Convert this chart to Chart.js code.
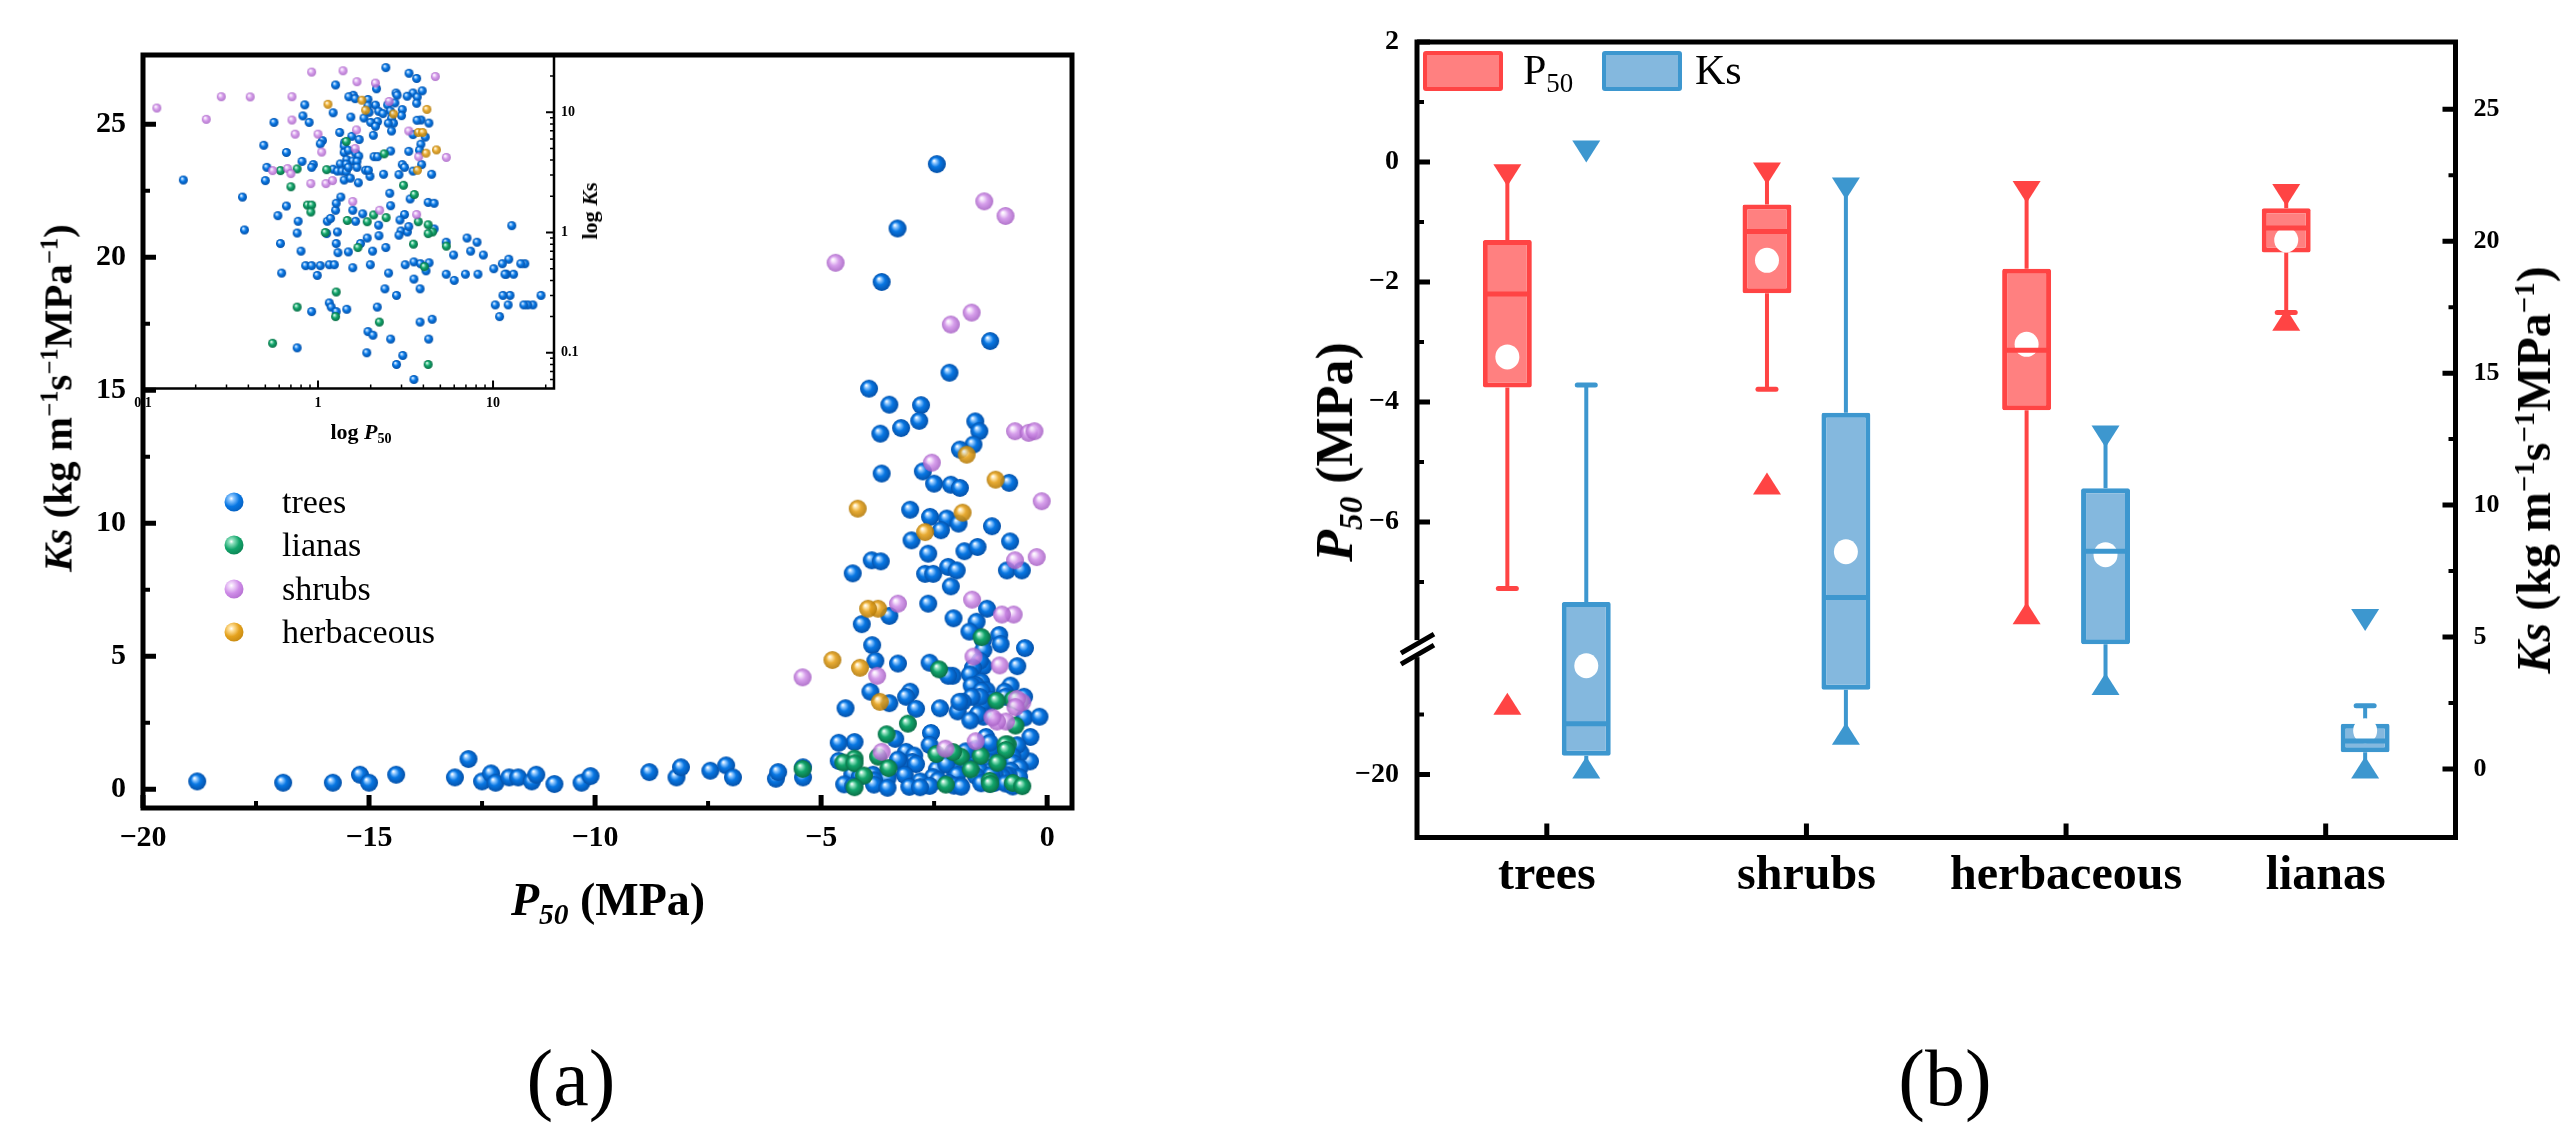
<!DOCTYPE html>
<html lang="en">
<head>
<meta charset="UTF-8">
<title>P50 and Ks by growth form</title>
<script src="https://cdn.jsdelivr.net/npm/chart.js@4"></script>
<style>
  body { margin: 0; background: #fff; font-family: 'Liberation Serif', 'Times New Roman', serif; }
  #page { position: relative; width: 2576px; height: 1148px; overflow: hidden; background: #fff; }
  canvas { position: absolute; }
  .txt { position: absolute; white-space: nowrap; color: #000; line-height: 1; }
  .b { font-weight: bold; }
  .ctr { transform: translate(-50%, -50%); }
  .rot { transform: translate(-50%, -50%) rotate(-90deg); }
  .vmid { transform: translateY(-50%); }
  .txt sup { font-size: 60%; vertical-align: 0; position: relative; top: -0.55em; line-height: 0; }
  .txt sub { font-size: 64%; vertical-align: 0; position: relative; top: 0.3em; line-height: 0; }
  .ball { position: absolute; width: 19px; height: 19px; border-radius: 50%; transform: translate(-50%, -50%); }
  .swatch { position: absolute; width: 72px; height: 32px; border: 4px solid; border-radius: 3px; }
</style>
</head>
<body>
<div id="page">
  <canvas id="mainA" width="1288" height="1148" style="left:0;top:0"></canvas>
  <canvas id="insetA" width="640" height="460" style="left:0;top:0"></canvas>
  <canvas id="boxB" width="1288" height="1148" style="left:1288px;top:0"></canvas>

  <!-- panel (a) text -->
  <div class="txt b rot" style="left:58px;top:398px;font-size:41px"><i>Ks</i> (kg m<sup>&minus;1</sup>s<sup>&minus;1</sup>MPa<sup>&minus;1</sup>)</div>
  <div class="txt b ctr" style="left:608px;top:900px;font-size:46px"><i>P<sub>50</sub></i> (MPa)</div>
  <div class="txt b ctr" style="left:361px;top:432px;font-size:22px">log <i>P</i><sub>50</sub></div>
  <div class="txt b rot" style="left:590px;top:211px;font-size:22px">log <i>K</i>s</div>
  <div class="ball" style="left:234px;top:502px;background:radial-gradient(circle at 36% 32%,#fff 0,#8cc6ff 14%,#0877e3 45%,#0450a8 100%)"></div>
  <div class="ball" style="left:234px;top:545px;background:radial-gradient(circle at 36% 32%,#fff 0,#8de0bd 14%,#12a56b 45%,#0a6e46 100%)"></div>
  <div class="ball" style="left:234px;top:589px;background:radial-gradient(circle at 36% 32%,#fff 0,#f1d8fa 14%,#cf8de8 45%,#a45dc2 100%)"></div>
  <div class="ball" style="left:234px;top:632px;background:radial-gradient(circle at 36% 32%,#fff 0,#ffe09a 14%,#e5a21d 45%,#b37a0a 100%)"></div>
  <div class="txt vmid" style="left:282px;top:502px;font-size:34px">trees</div>
  <div class="txt vmid" style="left:282px;top:545px;font-size:34px">lianas</div>
  <div class="txt vmid" style="left:282px;top:589px;font-size:34px">shrubs</div>
  <div class="txt vmid" style="left:282px;top:632px;font-size:34px">herbaceous</div>
  <div class="txt ctr" style="left:571px;top:1078px;font-size:80px">(a)</div>

  <!-- panel (b) text -->
  <div class="txt b rot" style="left:1335px;top:452px;font-size:52px"><i>P<sub>50</sub></i> (MPa)</div>
  <div class="txt b rot" style="left:2534px;top:470px;font-size:48px"><i>Ks</i> (kg m<sup>&minus;1</sup>s<sup>&minus;1</sup>MPa<sup>&minus;1</sup>)</div>
  <div class="swatch" style="left:1423px;top:51px;background:#ff8080;border-color:#ff4444"></div>
  <div class="txt vmid" style="left:1523px;top:70px;font-size:42px">P<sub>50</sub></div>
  <div class="swatch" style="left:1602px;top:51px;background:#84b8de;border-color:#3d97cf"></div>
  <div class="txt vmid" style="left:1695px;top:70px;font-size:42px">Ks</div>
  <div class="txt ctr" style="left:1945px;top:1078px;font-size:80px">(b)</div>
</div>

<script>
// ---- panel (a): [P50 (MPa), Ks (kg m-1 s-1 MPa-1)] per growth form ----
const treesPts = [
  [-2.44,23.5],[-3.31,21.08],[-3.66,19.07],[-1.26,16.85],[-2.16,15.66],[-3.94,15.06],[-3.49,14.46],[-2.79,14.44],
  [-2.83,13.85],[-3.23,13.58],[-3.69,13.37],[-1.59,13.83],[-1.5,13.46],[-1.63,12.96],[-1.93,12.77],[-2.75,11.95],
  [-3.66,11.87],[-2.5,11.49],[-2.13,11.45],[-1.93,11.33],[-0.84,11.52],[-3.03,10.51],[-2.59,10.24],[-2.22,10.18],
  [-1.96,9.99],[-2.35,9.74],[-3.0,9.36],[-1.22,9.89],[-0.82,9.32],[-2.63,8.86],[-1.83,8.95],[-1.54,9.11],
  [-3.88,8.61],[-3.68,8.57],[-4.3,8.12],[-2.7,8.1],[-2.52,8.1],[-2.19,8.36],[-2.0,8.23],[-0.89,8.23],[-0.56,8.23],
  [-2.13,7.63],[-2.07,6.43],[-1.33,6.79],[-1.56,6.3],[-1.42,5.61],[-1.72,5.93],[-3.49,6.52],[-4.1,6.21],
  [-3.87,5.42],[-3.8,4.83],[-1.41,5.24],[-1.41,4.63],[-1.49,4.83],[-1.64,4.57],[-1.71,4.32],[-2.09,4.27],
  [-2.19,4.27],[-2.6,4.76],[-3.3,4.73],[-0.49,5.31],[-0.66,4.63],[-0.81,3.9],[-1.06,5.8],[-1.03,5.46],
  [-1.46,4.04],[-1.34,3.72],[-2.63,6.98],[-1.58,3.93],[-1.67,3.9],[-1.45,3.7],[-1.22,3.36],[-1.29,3.24],
  [-1.37,3.24],[-1.45,3.2],[-1.49,3.48],[-1.67,3.48],[-1.87,3.29],[-1.98,2.93],[-3.03,3.67],[-3.12,3.48],
  [-3.91,3.67],[-4.46,3.05],[-2.37,3.05],[-2.9,3.03],[-0.51,3.48],[-0.5,2.7],[-0.94,3.67],[-0.92,3.48],
  [-1.41,2.73],[-1.53,2.83],[-1.7,2.59],[-1.94,3.29],[-3.49,3.24],[-0.17,2.73],[-2.57,2.12],[-3.36,1.9],
  [-4.26,1.78],[-4.61,1.75],[-0.37,1.97],[-0.38,1.05],[-0.59,1.38],[-0.66,1.66],[-0.77,1.24],[-0.76,0.99],
  [-1.13,1.24],[-1.18,1.31],[-1.26,1.53],[-1.35,1.97],[-1.27,1.75],[-1.58,1.53],[-1.64,1.24],[-1.12,0.98],
  [-1.29,1.01],[-1.8,1.43],[-2.22,1.15],[-2.6,1.67],[-3.12,1.41],[-2.94,1.27],[-2.98,1.03],[-3.24,1.01],
  [-4.61,1.07],[-0.61,0.81],[-0.8,0.7],[-1.27,0.81],[-1.3,0.68],[-1.49,0.69],[-1.75,0.81],[-1.91,0.9],
  [-2.05,0.7],[-2.44,0.75],[-2.23,0.94],[-2.9,0.95],[-3.3,1.12],[-0.62,0.46],[-0.85,0.53],[-0.92,0.53],
  [-1.03,0.53],[-0.99,0.44],[-1.16,0.54],[-1.24,0.54],[-1.58,0.51],[-1.99,0.54],[-2.53,0.46],[-3.15,0.54],
  [-3.53,0.57],[-3.85,0.55],[-4.31,0.56],[-4.14,0.48],[-3.53,0.41],[-3.83,0.34],[-2.41,0.34],[-2.81,0.3],
  [-1.16,0.26],[-1.19,0.24],[-1.27,0.22],[-1.46,0.23],[-0.92,0.22],[-2.18,0.24],[-3.83,0.18],[-4.49,0.19],
  [-1.93,0.15],[-2.06,0.14],[-2.6,0.13],[-4.29,0.13],[-0.76,0.11],[-1.9,0.1],[-3.05,0.095],[-2.81,0.08],
  [-3.53,0.06],
  [-18.8,0.3],[-16.9,0.25],[-15.8,0.25],[-15.2,0.55],[-15.0,0.25],[-14.4,0.55],[-13.1,0.45],[-12.8,1.14],
  [-12.5,0.3],[-12.3,0.6],[-12.2,0.25],[-11.9,0.45],[-11.7,0.45],[-11.4,0.3],[-11.3,0.55],[-10.9,0.2],
  [-10.3,0.25],[-10.1,0.5],[-8.8,0.65],[-8.2,0.45],[-8.1,0.83],[-7.45,0.7],[-7.1,0.9],[-6.95,0.45],
  [-6.0,0.4],[-5.95,0.65],[-5.4,0.83],[-5.4,0.45]
];
const lianasPts = [
  [-0.61,3.27],[-0.76,3.38],[-1.12,3.33],[-0.87,1.69],[-0.92,1.69],[-0.91,1.48],[-2.39,4.51],[-3.08,2.47],
  [-3.55,2.07],[-1.45,5.72],[-1.47,1.26],[-1.91,1.23],[-2.08,1.4],[-2.45,1.33],[-3.74,1.23],[-4.26,1.16],
  [-4.51,1.01],[-4.26,0.98],[-1.69,0.75],[-3.51,0.8],[-5.41,0.77],[-4.05,0.52],[-1.27,0.32],[-1.26,0.2],
  [-0.76,0.24],[-2.24,0.18],[-4.26,0.08],[-0.55,0.12],[-0.7,2.4],[-1.1,1.0]
];
const shrubsPts = [
  [-1.39,22.1],[-0.92,21.55],[-4.68,19.79],[-1.67,17.92],[-2.13,17.47],[-0.71,13.46],[-0.41,13.4],[-0.28,13.46],
  [-2.55,12.28],[-0.12,10.83],[-0.71,8.61],[-0.23,8.73],[-0.74,6.57],[-1.0,6.57],[-1.05,4.66],[-1.63,4.99],
  [-1.66,7.13],[-3.3,6.98],[-3.76,4.27],[-5.41,4.21],[-0.55,3.27],[-0.67,3.4],[-0.7,3.09],[-0.91,2.55],
  [-1.11,2.55],[-1.21,2.7],[-1.58,1.81],[-2.25,1.53],[-3.66,1.41]
];
const herbPts = [
  [-1.78,12.58],[-1.14,11.64],[-4.19,10.55],[-1.87,10.4],[-2.7,9.67],[-3.74,6.79],[-3.96,6.79],[-4.14,4.57],
  [-4.75,4.86],[-3.7,3.29]
];

// ---- panel (a) ticks ----
const ksTicksA = [0, 5, 10, 15, 20, 25];
const ksMinorA = [2.5, 7.5, 12.5, 17.5, 22.5];
const p50TicksA = [-20, -15, -10, -5, 0];
const p50MinorA = [-17.5, -12.5, -7.5, -2.5];
const logTicks = [0.1, 1, 10];
const logMinorX = [0.2,0.3,0.4,0.5,0.6,0.7,0.8,0.9,2,3,4,5,6,7,8,9,20];
const logMinorY = [0.06,0.07,0.08,0.09,0.2,0.3,0.4,0.5,0.6,0.7,0.8,0.9,2,3,4,5,6,7,8,9,20];

// ---- panel (b): box statistics in category order ----
const categories = ['trees', 'shrubs', 'herbaceous', 'lianas'];
const p50Q1 = [-3.76, -2.19, -4.14, -1.51];
const p50Median = [-2.20, -1.16, -3.14, -1.10];
const p50Q3 = [-1.30, -0.71, -1.78, -0.77];
const p50Mean = [-3.25, -1.64, -3.04, -1.30];
const p50WhiskLo = [-7.11, -3.79, -7.52, -2.51];
const p50WhiskHi = [-0.22, -0.19, -0.50, -0.55];
const p50Min = [-18.82, -5.36, -7.52, -2.63];
const p50Max = [-0.22, -0.19, -0.50, -0.55];
const ksQ1 = [0.50, 3.00, 4.72, 0.63];
const ksMedian = [1.71, 6.50, 8.25, 1.06];
const ksQ3 = [6.33, 13.50, 10.64, 1.71];
const ksMean = [3.91, 8.23, 8.12, 1.45];
const ksWhiskLo = [0.05, 1.33, 3.22, 0.05];
const ksWhiskHi = [14.55, 22.0, 12.6, 2.39];
const ksMin = [0.05, 1.33, 3.22, 0.05];
const ksMax = [23.4, 22.0, 12.6, 5.64];
const p50TicksB = [2, 0, -2, -4, -6, -20];
const p50MinorB = [1, -1, -3, -5, -7, -19];
const ksTicksB = [0, 5, 10, 15, 20, 25];
const ksMinorB = [2.5, 7.5, 12.5, 17.5, 22.5];

const SERIF = "'Liberation Serif','Times New Roman',serif";
const RED_FILL = '#ff8080', RED_LINE = '#ff4444';
const BLUE_FILL = '#84b8de', BLUE_LINE = '#3d97cf';

function fmt(v) { return v < 0 ? '\u2212' + Math.abs(v) : String(v); }
function toXY(pts) { return pts.map(p => ({ x: p[0], y: p[1] })); }
function toLogXY(pts) { return pts.map(p => ({ x: -p[0], y: p[1] })); }

// shaded ball used as point style
function sphere(r, g) {
  const c = document.createElement('canvas');
  const d = Math.ceil(r * 2 + 2);
  c.width = c.height = d;
  const x = c.getContext('2d');
  const grad = x.createRadialGradient(d/2 - r*0.32, d/2 - r*0.38, r*0.04, d/2, d/2, r);
  grad.addColorStop(0, '#ffffff');
  grad.addColorStop(0.2, g.light);
  grad.addColorStop(0.5, g.base);
  grad.addColorStop(1, g.dark);
  x.globalAlpha = g.alpha;
  x.fillStyle = grad;
  x.beginPath(); x.arc(d/2, d/2, r, 0, Math.PI * 2); x.fill();
  return c;
}

const groups = [
  { label: 'trees', pts: treesPts, base: '#0877e3', light: '#8cc6ff', dark: '#0450a8', alpha: 1, order: 4 },
  { label: 'lianas', pts: lianasPts, base: '#12a56b', light: '#8de0bd', dark: '#0a6e46', alpha: 1, order: 3 },
  { label: 'shrubs', pts: shrubsPts, base: '#cf8de8', light: '#f1d8fa', dark: '#a45dc2', alpha: 0.85, order: 2 },
  { label: 'herbaceous', pts: herbPts, base: '#e5a21d', light: '#ffe09a', dark: '#b37a0a', alpha: 0.9, order: 1 }
];

function tickMarks(ctx, scale, vals, len, side, a) {
  ctx.beginPath();
  vals.forEach(v => {
    const p = scale.getPixelForValue(v);
    if (side === 'left') { ctx.moveTo(a.left, p); ctx.lineTo(a.left + len, p); }
    else if (side === 'right') { ctx.moveTo(a.right, p); ctx.lineTo(a.right - len, p); }
    else { ctx.moveTo(p, a.bottom); ctx.lineTo(p, a.bottom - len); }
  });
  ctx.stroke();
}

const quiet = { legend: { display: false }, tooltip: { enabled: false } };

// ---------- panel (a) main scatter ----------
const frameA = {
  id: 'frameA',
  afterDraw(chart) {
    const { ctx, chartArea: a, scales: { x, y } } = chart;
    ctx.save();
    ctx.strokeStyle = '#000';
    ctx.lineWidth = 5;
    tickMarks(ctx, y, ksTicksA, 13, 'left', a);
    tickMarks(ctx, x, p50TicksA, 13, 'bottom', a);
    ctx.lineWidth = 4;
    tickMarks(ctx, y, ksMinorA, 7, 'left', a);
    tickMarks(ctx, x, p50MinorA, 7, 'bottom', a);
    ctx.lineWidth = 5;
    ctx.strokeRect(a.left, a.top, a.right - a.left, a.bottom - a.top);
    ctx.restore();
  }
};

new Chart(document.getElementById('mainA'), {
  type: 'scatter',
  data: {
    datasets: groups.map(g => ({
      label: g.label, data: toXY(g.pts), order: g.order,
      pointStyle: sphere(9, g), pointRadius: 9
    }))
  },
  options: {
    responsive: false, animation: false, events: [], clip: false,
    layout: { padding: { left: 0, top: 55, right: 216, bottom: 220 } },
    plugins: quiet,
    scales: {
      x: {
        type: 'linear', min: -20, max: 0.55, bounds: 'data',
        grid: { display: false, drawTicks: false }, border: { display: false },
        ticks: { color: '#000', font: { family: SERIF, size: 30, weight: 'bold' }, padding: 12,
                 autoSkip: false, maxRotation: 0, callback: v => fmt(v) },
        afterBuildTicks: s => { s.ticks = p50TicksA.map(v => ({ value: v })); },
        afterFit: s => { s.height = 120; }
      },
      y: {
        type: 'linear', min: -0.7, max: 27.6, bounds: 'data',
        grid: { display: false, drawTicks: false }, border: { display: false },
        ticks: { color: '#000', font: { family: SERIF, size: 30, weight: 'bold' }, padding: 17,
                 autoSkip: false, callback: v => fmt(v) },
        afterBuildTicks: s => { s.ticks = ksTicksA.map(v => ({ value: v })); },
        afterFit: s => { s.width = 143; }
      }
    }
  },
  plugins: [frameA]
});

// ---------- panel (a) log-log inset ----------
const frameInset = {
  id: 'frameInset',
  afterDraw(chart) {
    const { ctx, chartArea: a, scales: { x, y } } = chart;
    ctx.save();
    ctx.strokeStyle = '#000';
    ctx.lineWidth = 2;
    tickMarks(ctx, x, logTicks, 8, 'bottom', a);
    tickMarks(ctx, y, logTicks, 8, 'right', a);
    ctx.lineWidth = 1.5;
    tickMarks(ctx, x, logMinorX, 4, 'bottom', a);
    tickMarks(ctx, y, logMinorY, 4, 'right', a);
    ctx.lineWidth = 2.5;
    ctx.beginPath();
    ctx.moveTo(a.left, a.bottom); ctx.lineTo(a.right, a.bottom); ctx.lineTo(a.right, a.top);
    ctx.stroke();
    ctx.restore();
  }
};

new Chart(document.getElementById('insetA'), {
  type: 'scatter',
  data: {
    datasets: groups.map(g => ({
      label: g.label, data: toLogXY(g.pts), order: g.order,
      pointStyle: sphere(4.5, g), pointRadius: 4.5
    }))
  },
  options: {
    responsive: false, animation: false, events: [],
    layout: { padding: { left: 143, top: 55, right: 0, bottom: 0 } },
    plugins: quiet,
    scales: {
      x: {
        type: 'logarithmic', min: 0.1, max: 22.3, bounds: 'data',
        grid: { display: false, drawTicks: false }, border: { display: false },
        ticks: { color: '#000', font: { family: SERIF, size: 14, weight: 'bold' }, padding: 6,
                 autoSkip: false, maxRotation: 0, callback: v => String(v) },
        afterBuildTicks: s => { s.ticks = logTicks.map(v => ({ value: v })); },
        afterFit: s => { s.height = 71.4; }
      },
      y: {
        type: 'logarithmic', position: 'right', min: 0.0504, max: 29.9, bounds: 'data',
        grid: { display: false, drawTicks: false }, border: { display: false },
        ticks: { color: '#000', font: { family: SERIF, size: 14, weight: 'bold' }, padding: 7,
                 autoSkip: false, callback: v => String(v) },
        afterBuildTicks: s => { s.ticks = logTicks.map(v => ({ value: v })); },
        afterFit: s => { s.width = 86; }
      }
    }
  },
  plugins: [frameInset]
});

// ---------- panel (b) box plots with broken P50 axis ----------
const BREAK_AT = -13;       // P50 values below this sit on the lower axis segment
const BREAK_SHIFT = 9.79;   // size of the gap removed from the axis
const BREAK_MARK = -8.12;   // where the upper segment ends
function toSeg(v) { return v < BREAK_AT ? v + BREAK_SHIFT : v; }

class BrokenScale extends Chart.LinearScale {
  static id = 'broken';
  static defaults = Chart.LinearScale.defaults;
  getPixelForValue(v) { return super.getPixelForValue(toSeg(v)); }
}
Chart.register(BrokenScale);

function tri(ctx, x, y, w, h, down) {
  ctx.beginPath();
  if (down) { ctx.moveTo(x - w/2, y - h/2); ctx.lineTo(x + w/2, y - h/2); ctx.lineTo(x, y + h/2); }
  else { ctx.moveTo(x - w/2, y + h/2); ctx.lineTo(x + w/2, y + h/2); ctx.lineTo(x, y - h/2); }
  ctx.closePath();
  ctx.fill();
}

const boxParts = {
  id: 'boxParts',
  afterDatasetsDraw(chart) {
    const ctx = chart.ctx;
    const sets = [
      { meta: chart.getDatasetMeta(0), s: chart.scales.yL, q1: p50Q1, q3: p50Q3, med: p50Median, mean: p50Mean,
        lo: p50WhiskLo, hi: p50WhiskHi, mn: p50Min, mx: p50Max, line: RED_LINE },
      { meta: chart.getDatasetMeta(1), s: chart.scales.yR, q1: ksQ1, q3: ksQ3, med: ksMedian, mean: ksMean,
        lo: ksWhiskLo, hi: ksWhiskHi, mn: ksMin, mx: ksMax, line: BLUE_LINE }
    ];
    sets.forEach(d => d.meta.data.forEach((bar, i) => {
      const x = bar.x, w = bar.width, s = d.s;
      const py = v => s.getPixelForValue(v);
      ctx.save();
      ctx.strokeStyle = d.line;
      // whiskers
      ctx.lineWidth = 4;
      ctx.beginPath();
      ctx.moveTo(x, py(d.q3[i])); ctx.lineTo(x, py(d.hi[i]));
      ctx.moveTo(x, py(d.q1[i])); ctx.lineTo(x, py(d.lo[i]));
      ctx.stroke();
      // caps where the whisker does not end on a min/max marker
      ctx.lineWidth = 5; ctx.lineCap = 'round';
      [[d.hi[i], d.mx[i]], [d.lo[i], d.mn[i]]].forEach(([v, m]) => {
        if (Math.abs(v - m) < 0.01) return;
        ctx.beginPath(); ctx.moveTo(x - 9, py(v)); ctx.lineTo(x + 9, py(v)); ctx.stroke();
      });
      // mean
      ctx.fillStyle = '#fff';
      ctx.beginPath(); ctx.ellipse(x, py(d.mean[i]), 12, 12.5, 0, 0, Math.PI * 2); ctx.fill();
      // median
      ctx.lineCap = 'butt'; ctx.lineWidth = 5;
      ctx.beginPath(); ctx.moveTo(x - w/2 + 3, py(d.med[i])); ctx.lineTo(x + w/2 - 3, py(d.med[i])); ctx.stroke();
      // max / min markers
      ctx.fillStyle = d.line;
      tri(ctx, x, py(d.mx[i]), 28, 22, true);
      tri(ctx, x, py(d.mn[i]), 28, 22, false);
      ctx.restore();
    }));
  },
  afterDraw(chart) {
    const { ctx, chartArea: a, scales: { x, yL, yR } } = chart;
    ctx.save();
    ctx.strokeStyle = '#000';
    ctx.lineWidth = 5;
    tickMarks(ctx, yL, p50TicksB, 13, 'left', a);
    tickMarks(ctx, yR, ksTicksB, 13, 'right', a);
    tickMarks(ctx, x, categories.map((c, i) => i), 14, 'bottom', a);
    ctx.lineWidth = 4;
    tickMarks(ctx, yL, p50MinorB, 7, 'left', a);
    tickMarks(ctx, yR, ksMinorB, 7, 'right', a);
    ctx.lineWidth = 5;
    ctx.strokeRect(a.left, a.top, a.right - a.left, a.bottom - a.top);
    // axis break on the P50 axis
    const yb = yL.getPixelForValue(BREAK_MARK);
    ctx.fillStyle = '#fff';
    ctx.fillRect(a.left - 5, yb - 9, 10, 17);
    ctx.beginPath();
    ctx.moveTo(a.left - 16, yb + 4); ctx.lineTo(a.left + 17, yb - 15);
    ctx.moveTo(a.left - 16, yb + 15); ctx.lineTo(a.left + 17, yb - 4);
    ctx.stroke();
    ctx.restore();
  }
};

new Chart(document.getElementById('boxB'), {
  type: 'bar',
  data: {
    labels: categories,
    datasets: [
      { label: 'P50', yAxisID: 'yL', data: categories.map((c, i) => [p50Q1[i], p50Q3[i]]),
        backgroundColor: RED_FILL, borderColor: RED_LINE, borderWidth: 5, borderSkipped: false, borderRadius: 2,
        categoryPercentage: 0.608, barPercentage: 0.62 },
      { label: 'Ks', yAxisID: 'yR', data: categories.map((c, i) => [ksQ1[i], ksQ3[i]]),
        backgroundColor: BLUE_FILL, borderColor: BLUE_LINE, borderWidth: 5, borderSkipped: false, borderRadius: 2,
        categoryPercentage: 0.608, barPercentage: 0.62 }
    ]
  },
  options: {
    responsive: false, animation: false, events: [],
    layout: { padding: { left: 0, top: 42, right: 0, bottom: 190 } },
    plugins: quiet,
    scales: {
      x: {
        type: 'category',
        grid: { display: false, drawTicks: false }, border: { display: false },
        ticks: { color: '#000', font: { family: SERIF, size: 48, weight: 'bold' }, padding: 10, maxRotation: 0, autoSkip: false },
        afterFit: s => { s.height = 120.5; }
      },
      yL: {
        type: 'broken', position: 'left', min: -11.26, max: 2, bounds: 'data',
        grid: { display: false, drawTicks: false }, border: { display: false },
        ticks: { color: '#000', font: { family: SERIF, size: 28, weight: 'bold' }, padding: 18,
                 autoSkip: false, callback: v => fmt(v) },
        afterBuildTicks: s => { s.ticks = p50TicksB.map(v => ({ value: v })); },
        afterFit: s => { s.width = 129; }
      },
      yR: {
        type: 'linear', position: 'right', min: -2.6, max: 27.55, bounds: 'data',
        grid: { display: false, drawTicks: false }, border: { display: false },
        ticks: { color: '#000', font: { family: SERIF, size: 26, weight: 'bold' }, padding: 18,
                 autoSkip: false, callback: v => fmt(v) },
        afterBuildTicks: s => { s.ticks = ksTicksB.map(v => ({ value: v })); },
        afterFit: s => { s.width = 120.5; }
      }
    }
  },
  plugins: [boxParts]
});
</script>
</body>
</html>
